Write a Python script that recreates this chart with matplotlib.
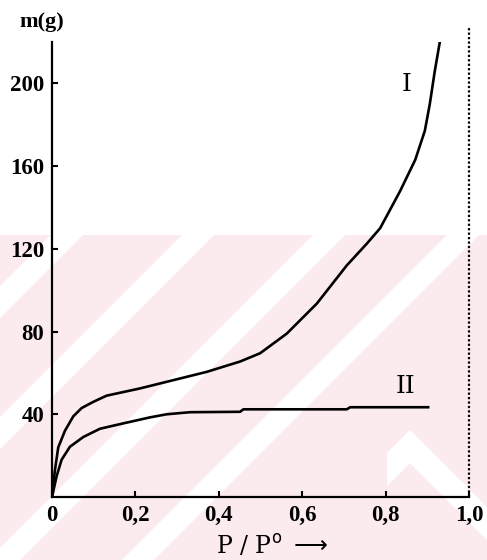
import matplotlib
matplotlib.use("Agg")
import matplotlib.pyplot as plt
from matplotlib.patches import Polygon

# ---- data ----
# curve I
p_I = [0, 0.007, 0.015, 0.031, 0.051, 0.071, 0.099, 0.131, 0.211, 0.291, 0.371,
       0.451, 0.499, 0.563, 0.635, 0.707, 0.755, 0.787, 0.835, 0.871, 0.894,
       0.906, 0.918, 0.930]
m_I = [0, 13, 24, 32, 39, 43, 46, 49, 52.5, 56.5, 60.5,
       65.5, 69.5, 79, 93.5, 112, 122.5, 130, 148, 163, 177,
       190, 206, 220]

# curve II
p_II = [0, 0.011, 0.023, 0.043, 0.075, 0.115, 0.171, 0.235, 0.275, 0.331,
        0.451, 0.459, 0.707, 0.715, 0.902]
m_II = [0, 10, 18, 24.3, 29, 33, 35.6, 38.5, 40, 41,
        41.2, 42.4, 42.4, 43.4, 43.4]

x_ticks = [0, 0.2, 0.4, 0.6, 0.8, 1.0]
x_tick_labels = ["0", "0,2", "0,4", "0,6", "0,8", "1,0"]
y_ticks = [40, 80, 120, 160, 200]
y_tick_labels = ["40", "80", "120", "160", "200"]

W, H = 487, 560
fig = plt.figure(figsize=(W / 100, H / 100), dpi=100)

# faint pink watermark behind the chart (pixel coords -> figure fraction)
def fp(pts):
    return [(x / W, 1 - y / H) for x, y in pts]

pink = "#fcebee"
fig.patches.append(Polygon(fp([(0, 235), (W, 235), (W, H), (0, H)]),
                           closed=True, transform=fig.transFigure,
                           facecolor=pink, edgecolor="none", zorder=0))
for xs in [51, 182, 313, 447]:
    fig.patches.append(Polygon(fp([(xs, 235), (xs + 32, 235),
                                   (xs + 32 - 325, 560), (xs - 325, 560)]),
                               closed=True, transform=fig.transFigure,
                               facecolor="white", edgecolor="none", zorder=0))
fig.patches.append(Polygon(fp([(387, 453), (410, 430), (487, 507), (487, 540),
                               (410, 463), (387, 486)]),
                           closed=True, transform=fig.transFigure,
                           facecolor="white", edgecolor="none", zorder=0))

ax = fig.add_axes([52 / W, 1 - 497 / H, (469 - 52) / W, (497 - 42) / H])
ax.set_zorder(2)
ax.patch.set_alpha(0)

ax.plot(p_I, m_I, color="black", lw=1.9)
ax.plot(p_II, m_II, color="black", lw=1.9)

ax.set_xlim(0, 1.0)
ax.set_ylim(0, 220)

for s in ["top", "right"]:
    ax.spines[s].set_visible(False)
for s in ["left", "bottom"]:
    ax.spines[s].set_linewidth(1.6)

# dotted line at P/P0 = 1
ax.axvline(1.0, ymin=0, ymax=1.031, color="black", lw=1.6, ls=(0, (1, 1)),
           clip_on=False)

tick_font = dict(family="Liberation Serif", size=16.5, weight="bold")
ax.set_xticks(x_ticks)
ax.set_xticklabels(x_tick_labels, fontdict=tick_font)
ax.set_yticks(y_ticks)
ax.set_yticklabels(y_tick_labels, fontdict=tick_font)
ax.tick_params(direction="in", length=4, width=1.5)
ax.tick_params(axis="x", pad=6)
ax.tick_params(axis="y", pad=5.5)

ax.text(0.851, 199.5, "I", ha="center", va="center",
        family="DejaVu Serif", fontsize=18)
ax.text(0.847, 53.5, "II", ha="center", va="center",
        family="DejaVu Serif", fontsize=18)

fig.text(42 / W, 1 - 22 / H, "m(g)", ha="center", va="center",
         family="Liberation Serif", fontsize=16, weight="bold")
fig.text(272 / W, 1 - 546 / H, r"P / P$^{\mathrm{o}}$ $\longrightarrow$",
         ha="center", va="center", family="DejaVu Serif", fontsize=17)

fig.savefig("out.png", dpi=100)
